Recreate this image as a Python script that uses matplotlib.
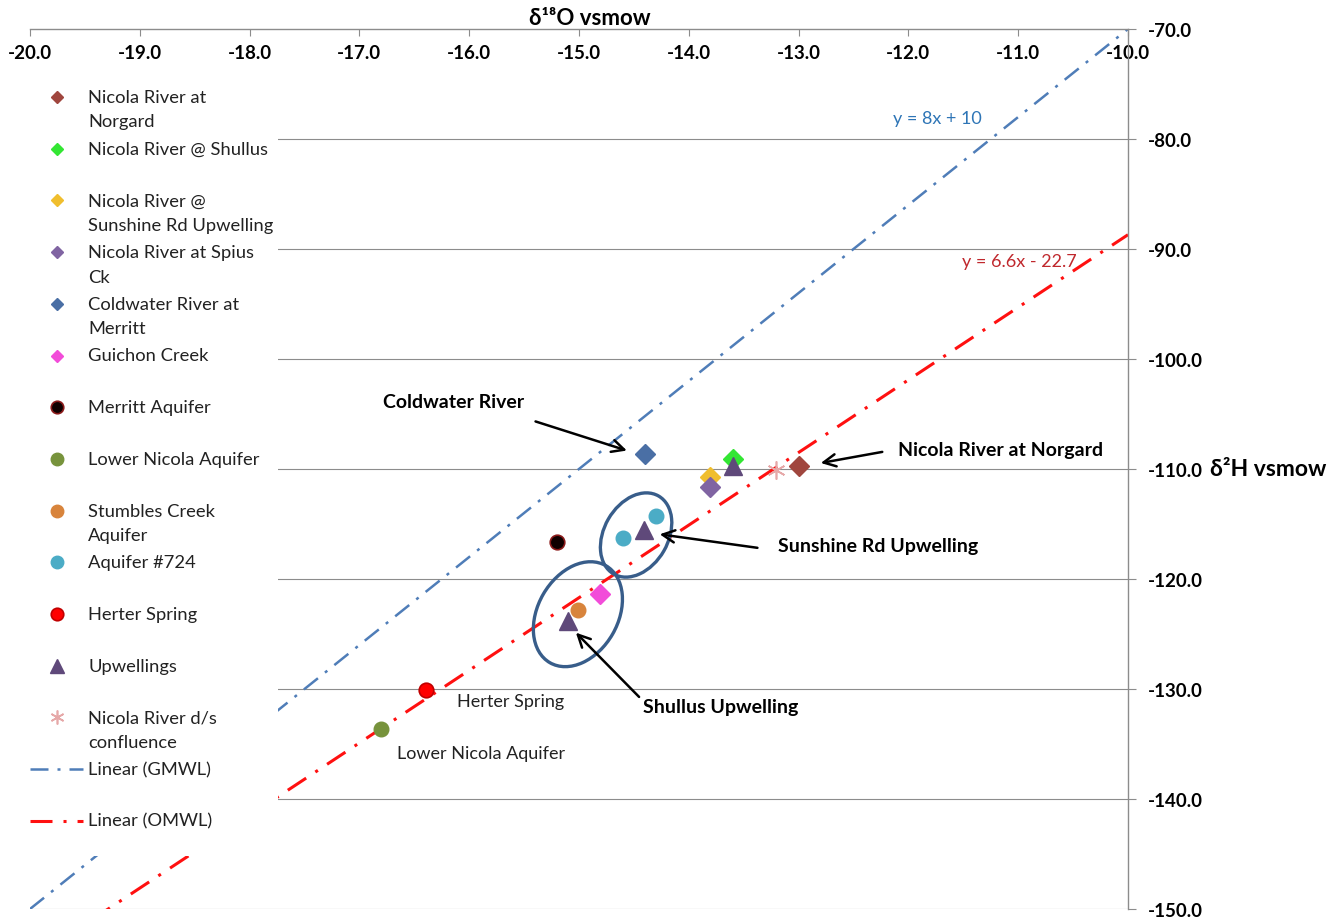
import matplotlib.pyplot as plt
from matplotlib.lines import Line2D
from matplotlib.patches import Ellipse, Rectangle
from matplotlib.transforms import ScaledTranslation

plt.rcParams["font.family"] = ["Lato", "DejaVu Sans"]

# --- data (delta 18O, delta 2H) -------------------------------------------
norgard_x = [-13.0]
norgard_y = [-109.7]
shullus_x = [-13.6]
shullus_y = [-109.1]
sunshine_x = [-13.81]
sunshine_y = [-110.7]
spius_x = [-13.81]
spius_y = [-111.6]
coldwater_x = [-14.4]
coldwater_y = [-108.6]
guichon_x = [-14.81]
guichon_y = [-121.4]
merritt_aq_x = [-15.2]
merritt_aq_y = [-116.6]
lower_nicola_x = [-16.8]
lower_nicola_y = [-133.6]
stumbles_x = [-15.01]
stumbles_y = [-122.8]
aq724_x = [-14.6, -14.3]
aq724_y = [-116.3, -114.3]
herter_x = [-16.39]
herter_y = [-130.1]
upwell_x = [-13.6, -14.41, -15.1]
upwell_y = [-109.7, -115.5, -123.8]
confluence_x = [-13.21]
confluence_y = [-110.1]

gmwl_slope, gmwl_intercept = 8.0, 10.0
omwl_slope, omwl_intercept = 6.6, -22.7
line_x = [-20.0, -10.0]

series = [
    ("Nicola River at\nNorgard", norgard_x, norgard_y,
     dict(marker="D", ms=10, mfc="#A0463E", mec="#A0463E"), dict(ms=6)),
    ("Nicola River @ Shullus", shullus_x, shullus_y,
     dict(marker="D", ms=10, mfc="#33E633", mec="#33E633"), dict(ms=6)),
    ("Nicola River @\nSunshine Rd Upwelling", sunshine_x, sunshine_y,
     dict(marker="D", ms=10, mfc="#F0BE2E", mec="#F0BE2E"), dict(ms=6)),
    ("Nicola River at Spius\nCk", spius_x, spius_y,
     dict(marker="D", ms=10, mfc="#8064A2", mec="#8064A2"), dict(ms=6)),
    ("Coldwater River at\nMerritt", coldwater_x, coldwater_y,
     dict(marker="D", ms=10, mfc="#4A6FA5", mec="#4A6FA5"), dict(ms=6)),
    ("Guichon Creek", guichon_x, guichon_y,
     dict(marker="D", ms=10, mfc="#F24CD9", mec="#F24CD9"), dict(ms=6)),
    ("Merritt Aquifer", merritt_aq_x, merritt_aq_y,
     dict(marker="o", ms=10.5, mfc="#100000", mec="#8B1A1A", mew=1.2), dict(ms=9)),
    ("Lower Nicola Aquifer", lower_nicola_x, lower_nicola_y,
     dict(marker="o", ms=10.5, mfc="#77933C", mec="#77933C"), dict(ms=9)),
    ("Stumbles Creek\nAquifer", stumbles_x, stumbles_y,
     dict(marker="o", ms=10.5, mfc="#D8843C", mec="#D8843C"), dict(ms=9)),
    ("Aquifer #724", aq724_x, aq724_y,
     dict(marker="o", ms=10.5, mfc="#4BACC6", mec="#4BACC6"), dict(ms=9)),
    ("Herter Spring", herter_x, herter_y,
     dict(marker="o", ms=10.5, mfc="#FF0000", mec="#C00000", mew=1.2), dict(ms=9)),
    ("Upwellings", upwell_x, upwell_y,
     dict(marker="^", ms=12.5, mfc="#5F497A", mec="#5F497A"), dict(ms=9.5)),
    ("Nicola River d/s\nconfluence", confluence_x, confluence_y,
     dict(marker=(6, 2, 0), ms=13, mfc="none", mec="#E6A8A8", mew=1.2), dict(ms=10)),
]

gmwl_style = dict(color="#4F7DB8", lw=1.8, linestyle=(0, (7.2, 3.6, 1.2, 3.6)))
omwl_style = dict(color="#FF1010", lw=2.2, linestyle=(0, (7.2, 3.6, 1.0, 3.6)))

fig = plt.figure(figsize=(13.38, 9.2), dpi=100)
ax = fig.add_axes([30 / 1338, 10 / 920, 1098 / 1338, 880 / 920])
ax.set_xlim(-20, -10)
ax.set_ylim(-150, -70)

# gridlines
for gy in range(-140, -70, 10):
    ax.axhline(gy, color="#8C8C8C", lw=0.8, zorder=1)
ax.axhline(-150, color="#8C8C8C", lw=0.8, zorder=1)

# trendlines
ax.plot(line_x, [gmwl_slope * v + gmwl_intercept for v in line_x], zorder=2, **gmwl_style)
ax.plot(line_x, [omwl_slope * v + omwl_intercept for v in line_x], zorder=2, **omwl_style)

for name, xs, ys, style, _ in series:
    ax.plot(xs, ys, linestyle="none", zorder=4, **style)

# axes styling: x axis drawn along the top edge (y = -70), y axis on the right
for side in ("top", "left"):
    ax.spines[side].set_visible(False)
ax.spines["bottom"].set_position(("data", -70))
for side in ("bottom", "right"):
    ax.spines[side].set_color("#8C8C8C")
    ax.spines[side].set_linewidth(1.0)
ax.yaxis.tick_right()
ax.set_xticks(range(-20, -9))
ax.set_xticklabels([f"{v:.1f}" for v in range(-20, -9)])
ax.set_yticks(range(-150, -69, 10))
ax.set_yticklabels([f"{v:.1f}" for v in range(-150, -69, 10)])
ax.tick_params(axis="x", direction="out", length=5, color="#8C8C8C", pad=6, labelsize=13.5)
ax.tick_params(axis="y", direction="out", length=6, color="#8C8C8C", pad=8, labelsize=13.5)
for lab in ax.get_xticklabels() + ax.get_yticklabels():
    lab.set_fontweight("bold")

ax.set_xlabel("δ¹⁸O vsmow", fontsize=16, fontweight="bold", va="center")
ax.xaxis.set_label_coords(0.51, 1.0136)
ax.yaxis.set_label_position("right")
ax.set_ylabel("δ²H vsmow", fontsize=16.5, fontweight="bold", rotation=0, ha="left", va="center")
ax.yaxis.set_label_coords(1.0747, 0.5)

# trendline equations
ax.text(-12.14, -78.1, "y = 8x + 10", color="#2E75B6", fontsize=13, va="center")
ax.text(-11.51, -91.1, "y = 6.6x - 22.7", color="#C0282D", fontsize=13, va="center")

# circled groups
for (cx, cy), w, h in [((-14.48, -116.0), 0.90, 0.64), ((-15.01, -123.2), 1.12, 0.80)]:
    trans = fig.dpi_scale_trans + ScaledTranslation(cx, cy, ax.transData)
    ax.add_patch(Ellipse((0, 0), w, h, angle=60, transform=trans, fill=False,
                         edgecolor="#385D8A", lw=2.4, zorder=5))

# callouts
arrow = dict(arrowstyle="->", color="black", lw=1.8, mutation_scale=22)
callouts = [
    ("Coldwater River", (-16.785, -103.9), (-15.42, -105.6), (-14.54, -108.4)),
    ("Nicola River at Norgard", (-12.095, -108.2), (-12.213, -108.4), (-12.823, -109.5)),
    ("Sunshine Rd Upwelling", (-13.19, -117.0), (-13.35, -117.2), (-14.29, -115.9)),
    ("Shullus Upwelling", (-14.417, -131.6), (-14.435, -130.9), (-15.046, -124.7)),
]
for label, tpos, start, end in callouts:
    ax.text(*tpos, label, fontsize=14, fontweight="bold", va="center", ha="left")
    ax.annotate("", xy=end, xytext=start, arrowprops=arrow, zorder=6)

ax.text(-16.11, -131.1, "Herter Spring", fontsize=13, va="center", color="#222222")
ax.text(-16.66, -135.8, "Lower Nicola Aquifer", fontsize=13, va="center", color="#222222")

# legend block (white box covering the left part of the plot)
fig.add_artist(Rectangle((0, 1 - 857 / 920), 278 / 1338, 779 / 920,
                         transform=fig.transFigure, facecolor="white",
                         edgecolor="none", zorder=2))
row_px = 98
step_px = 51.7
mx = 57 / 1338
tx = 88 / 1338
for i, (name, _, _, style, leg) in enumerate(series):
    ypx = row_px + i * step_px
    yf = 1 - ypx / 920
    lstyle = dict(style)
    lstyle.update(leg)
    fig.add_artist(Line2D([mx], [yf], transform=fig.transFigure, linestyle="none",
                          zorder=3, **lstyle))
    for j, line in enumerate(name.split("\n")):
        fig.text(tx, 1 - (ypx + j * 24.5) / 920, line, fontsize=13.2,
                 va="center", ha="left", zorder=3, color="#222222")

for k, (name, style) in enumerate([("Linear (GMWL)", gmwl_style), ("Linear (OMWL)", omwl_style)]):
    ypx = row_px + (len(series) + k) * step_px
    yf = 1 - ypx / 920
    fig.add_artist(Line2D([30 / 1338, 83 / 1338], [yf, yf], transform=fig.transFigure,
                          zorder=3, **style))
    fig.text(tx, yf, name, fontsize=13.2, va="center", ha="left", zorder=3, color="#222222")

fig.savefig("out.png", dpi=100)
